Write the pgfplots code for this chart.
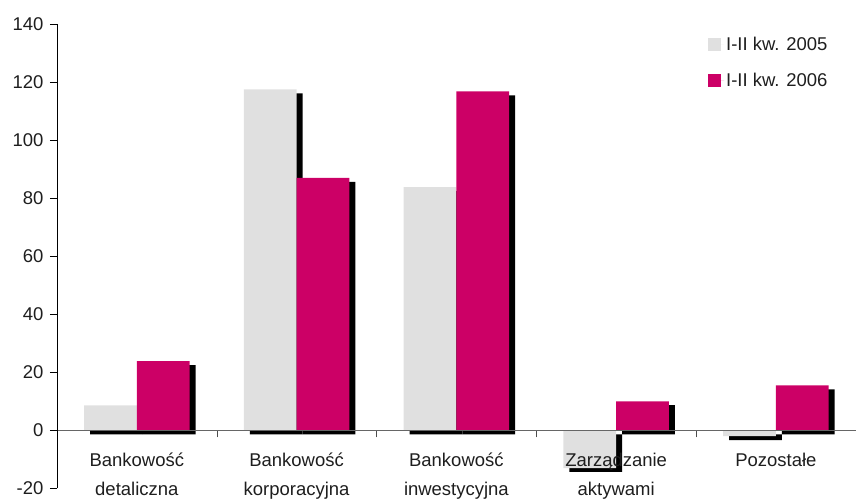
\documentclass[border=0pt]{standalone}
\usepackage{pgfplots}
\usepackage{pgfplotstable}
\pgfplotsset{compat=1.18}
\usepackage{fontspec}
\setmainfont{Liberation Sans}
\definecolor{c05}{RGB}{224,224,224}
\definecolor{c06}{RGB}{204,0,102}
\definecolor{txt}{RGB}{30,30,30}

\pgfplotstableread{
x y05 y06
0 8.6 23.8
1 117.5 87.0
2 83.8 116.8
3 -13.0 10.0
4 -2.0 15.5
}\data

\begin{document}
\begin{tikzpicture}
\begin{axis}[
  scale only axis, width=800pt, height=465pt,
  xmin=-0.5, xmax=4.5, ymin=-20, ymax=140,
  axis x line*=middle, axis y line*=left,
  axis on top,
  tick align=outside,
  ytick={-20,0,...,140},
  xtick={0.5,1.5,2.5,3.5}, xticklabels={},
  extra x ticks={0,1,2,3,4},
  extra x tick labels={{Bankowość\\detaliczna},{Bankowość\\korporacyjna},{Bankowość\\inwestycyjna},{Zarządzanie\\aktywami},{Pozostałe}},
  extra x tick style={major tick length=0pt},
  major tick length=7pt,
  x axis line style={draw=black!60},
  y axis line style={draw=black},
  xtick style={draw=black!70},
  ytick style={draw=black},
  /pgf/number format/assume math mode=true,
  tick label style={font=\fontsize{18.5}{29}\selectfont, text=txt},
  yticklabel style={xshift=-3pt},
  xticklabel style={align=center, anchor=north, yshift=-19pt},
  legend style={at={(0.815,0.977)}, anchor=north west, draw=none, fill=none,
     font=\fontsize{18.5}{22}\selectfont, text=txt, row sep=17pt, inner sep=0pt},
  legend cell align=left,
  legend image code/.code={\fill[#1] (0pt,-6.5pt) rectangle (13pt,6.5pt); \path (0pt,0pt) -- (16pt,0pt);},
  bar width=0.33,
]
\addplot[ybar, fill=black, draw=none, bar shift=-0.165, xshift=6pt, yshift=-4pt, forget plot] table[x=x,y=y05]{\data};
\addplot[ybar, fill=black, draw=none, bar shift=0.165, xshift=6pt, yshift=-4pt, forget plot] table[x=x,y=y06]{\data};
\addplot[ybar, fill=c05, draw=none, bar shift=-0.165] table[x=x,y=y05]{\data};
\addplot[ybar, fill=c06, draw=none, bar shift=0.165] table[x=x,y=y06]{\data};
\legend{I-II kw. 2005, I-II kw. 2006}
\end{axis}
\path ([xshift=-57pt,yshift=-11pt]current axis.south west) rectangle ([yshift=24pt]current axis.north east);
\end{tikzpicture}
\end{document}
